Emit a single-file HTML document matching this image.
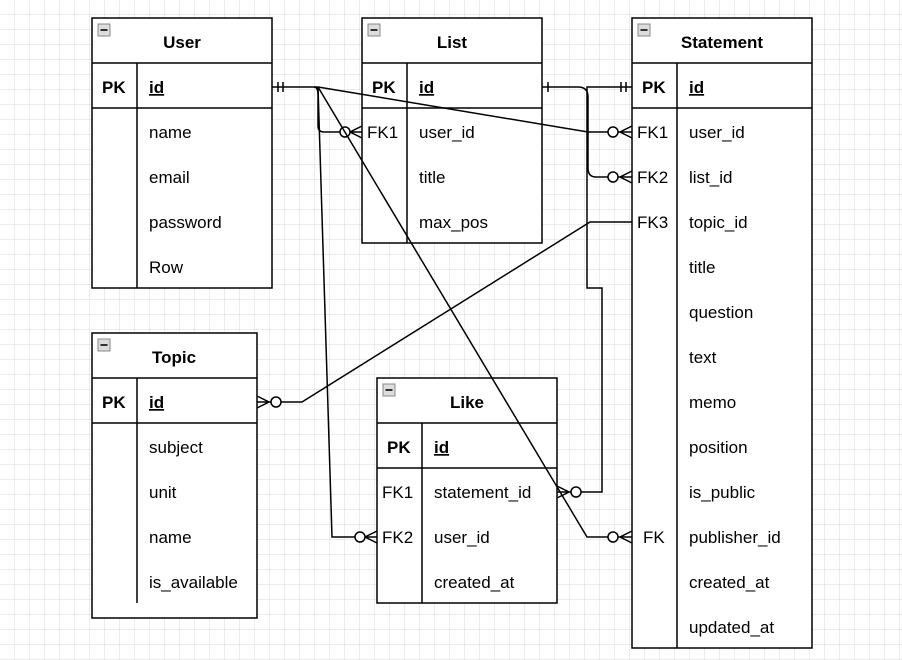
<!DOCTYPE html>
<html><head><meta charset="utf-8"><style>
html,body{margin:0;padding:0;background:#fff;}
svg{display:block;}
text{font-family:"Liberation Sans",Arial,sans-serif;font-size:17px;fill:#000;}
.b{font-weight:bold;}
</style></head><body>
<svg width="902" height="660" viewBox="0 0 902 660" xmlns="http://www.w3.org/2000/svg">
<defs>
<pattern id="g" width="15" height="15" patternUnits="userSpaceOnUse">
<path d="M15 0V15M0 15H15" stroke="#d9d9d9" stroke-width="1" fill="none"/>
</pattern>
</defs>
<rect width="902" height="660" fill="url(#g)"/>

<g fill="#fff" stroke="#000" stroke-width="1.5">
<rect x="92" y="18" width="180" height="270"/>
<rect x="362" y="18" width="180" height="225"/>
<rect x="632" y="18" width="180" height="630"/>
<rect x="92" y="333" width="165" height="285"/>
<rect x="377" y="378" width="180" height="225"/>
</g>
<g stroke="#000" stroke-width="1.5" fill="none">
<path d="M92 63H272M92 108H272M137 63V288"/>
<path d="M362 63H542M362 108H542M407 63V243"/>
<path d="M632 63H812M632 108H812M677 63V648"/>
<path d="M92 378H257M92 423H257M137 378V603"/>
<path d="M377 423H557M377 468H557M422 423V603"/>
</g>
<g fill="#ddd" stroke="#888" stroke-width="1">
<rect x="98" y="24" width="12" height="12"/><rect x="368" y="24" width="12" height="12"/>
<rect x="638" y="24" width="12" height="12"/><rect x="98" y="339" width="12" height="12"/>
<rect x="383" y="384" width="12" height="12"/>
</g>
<g stroke="#333" stroke-width="2">
<path d="M100.5 30H107.5M370.5 30H377.5M640.5 30H647.5M100.5 345H107.5M385.5 390H392.5"/>
</g>

<g class="b">
<text x="182" y="48" text-anchor="middle" class="b">User</text>
<text x="452" y="48" text-anchor="middle" class="b">List</text>
<text x="722" y="48" text-anchor="middle" class="b">Statement</text>
<text x="174" y="363" text-anchor="middle" class="b">Topic</text>
<text x="467" y="408" text-anchor="middle" class="b">Like</text>
<text x="102" y="93" class="b">PK</text><text x="149" y="93" class="b" text-decoration="underline">id</text>
<text x="372" y="93" class="b">PK</text><text x="419" y="93" class="b" text-decoration="underline">id</text>
<text x="642" y="93" class="b">PK</text><text x="689" y="93" class="b" text-decoration="underline">id</text>
<text x="102" y="408" class="b">PK</text><text x="149" y="408" class="b" text-decoration="underline">id</text>
<text x="387" y="453" class="b">PK</text><text x="434" y="453" class="b" text-decoration="underline">id</text>
</g>
<g>
<text x="149" y="138">name</text><text x="149" y="183">email</text><text x="149" y="228">password</text><text x="149" y="273">Row</text>
<text x="367" y="138">FK1</text><text x="419" y="138">user_id</text><text x="419" y="183">title</text><text x="419" y="228">max_pos</text>
<text x="637" y="138">FK1</text><text x="689" y="138">user_id</text>
<text x="637" y="183">FK2</text><text x="689" y="183">list_id</text>
<text x="637" y="228">FK3</text><text x="689" y="228">topic_id</text>
<text x="689" y="273">title</text><text x="689" y="318">question</text><text x="689" y="363">text</text>
<text x="689" y="408">memo</text><text x="689" y="453">position</text><text x="689" y="498">is_public</text>
<text x="643" y="543">FK</text><text x="689" y="543">publisher_id</text>
<text x="689" y="588">created_at</text><text x="689" y="633">updated_at</text>
<text x="149" y="453">subject</text><text x="149" y="498">unit</text><text x="149" y="543">name</text><text x="149" y="588">is_available</text>
<text x="382" y="498">FK1</text><text x="434" y="498">statement_id</text>
<text x="382" y="543">FK2</text><text x="434" y="543">user_id</text>
<text x="434" y="588">created_at</text>
</g>

<g stroke="#000" stroke-width="1.5" fill="none">
<path d="M272 87H318M278 82V92M283 82V92"/>
<path d="M314 87Q318 87 318 95V126Q318 132 324 132H340M350 132H362M362 126L350 132L362 138"/>
<circle cx="345" cy="132" r="5" fill="#fff"/>
<path d="M318 87L588 132H608M618 132H632M632 126L620 132L632 138"/>
<circle cx="613" cy="132" r="5" fill="#fff"/>
<path d="M318 87L332 537H355M365 537H377M377 531L365 537L377 543"/>
<circle cx="360" cy="537" r="5" fill="#fff"/>
<path d="M318 87L587 537H608M618 537H632M632 531L620 537L632 543"/>
<circle cx="613" cy="537" r="5" fill="#fff"/>
<path d="M542 87H578Q588 87 588 97V168Q588 177 596 177H608M618 177H632M632 171L620 177L632 183M548 82V92"/>
<circle cx="613" cy="177" r="5" fill="#fff"/>
<path d="M632 87H587V288H602V492H581M571 492H557M557 486L569 492L557 498M621 82V92M626 82V92"/>
<circle cx="576" cy="492" r="5" fill="#fff"/>
<path d="M632 222H590L302 402H281M271 402H257M257 396L269 402L257 408"/>
<circle cx="276" cy="402" r="5" fill="#fff"/>
</g>
</svg>
</body></html>
